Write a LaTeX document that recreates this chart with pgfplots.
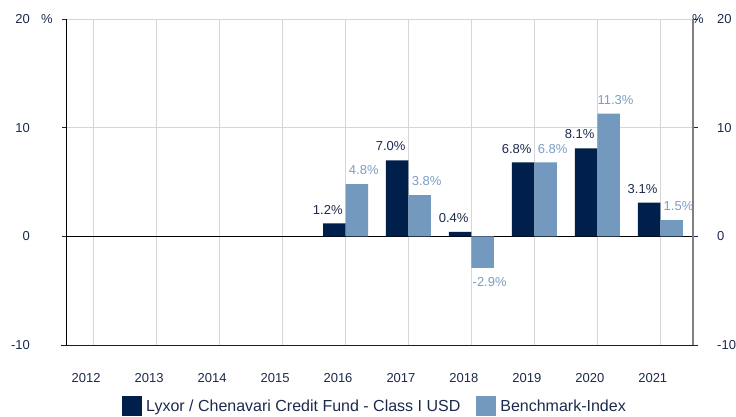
\documentclass[border=0pt]{standalone}
\usepackage{fontspec}
\setmainfont{Liberation Sans}
\usepackage{pgfplots}
\pgfplotsset{compat=1.18}
\definecolor{navy}{HTML}{001F4B}
\definecolor{lblue}{HTML}{7399BF}
\definecolor{navytxt}{HTML}{1B2A4C}
\definecolor{lbluetxt}{HTML}{7C9DC4}
\definecolor{gridc}{HTML}{D6D6D6}
\begin{document}
\begin{tikzpicture}
\useasboundingbox (-66pt,-71pt) rectangle (670pt,345pt);
\begin{axis}[
  at={(0,0)}, anchor=south west,
  width=627pt, height=326pt, scale only axis,
  clip=false,
  xmin=-0.44, xmax=9.52, ymin=-10, ymax=20,
  axis x line*=bottom, axis y line*=left,
  x axis line style={draw=navy, line width=1pt, -, shorten <=-5pt, shorten >=-5pt},
  y axis line style={draw=black, line width=0.8pt, -},
  xtick={0,1,2,3,4,5,6,7,8,9},
  xticklabels={2012,2013,2014,2015,2016,2017,2018,2019,2020,2021},
  ytick={-10,0,10,20},
  xmajorgrids, ymajorgrids,
  grid style={gridc, line width=0.8pt},
  xtick style={draw=none},
  ytick style={draw=navytxt, line width=0.8pt},
  tick align=outside, major tick length=4pt,
  ticklabel style={font=\fontsize{13}{15}\selectfont, text=navytxt},
  yticklabel style={anchor=east, inner sep=0pt, xshift=-32pt},
  xticklabel style={anchor=north, inner sep=0pt, xshift=-7.5pt, yshift=-24.5pt},
  /pgf/number format/assume math mode=true,
  extra y ticks={0}, extra y tick labels={},
  extra y tick style={grid=major, major grid style={black, line width=0.8pt}},
  ybar=0pt, bar width=22.5pt,
  nodes near coords={\pgfmathprintnumber[fixed,fixed zerofill,precision=1,assume math mode=true]{\pgfplotspointmeta}\%},
  nodes near coords align=vertical,
  every node near coord/.append style={font=\fontsize{13}{15}\selectfont, inner xsep=0pt, inner ysep=9pt},
  legend style={draw=none, fill=none, at={(0.492,-0.187)}, anchor=center,
    font=\fontsize{16}{18}\selectfont, text=navytxt,
    nodes={inner sep=1.5pt},
    /tikz/every odd column/.append style={column sep=3pt},
    /tikz/every even column/.append style={column sep=14pt}},
  legend columns=2,
  legend cell align=left,
]
\addplot[fill=navy, draw=none,
  every node near coord/.append style={text=navytxt, xshift=-6.5pt},
  legend image code/.code={\fill[navy] (0pt,-10pt) rectangle (20pt,10pt);}]
  coordinates {(4,1.2) (5,7.0) (6,0.4) (7,6.8) (8,8.1) (9,3.1)};
\addplot[fill=lblue, draw=none,
  every node near coord/.append style={text=lbluetxt, xshift=7pt},
  legend image code/.code={\fill[lblue] (0pt,-10pt) rectangle (20pt,10pt);}]
  coordinates {(4,4.8) (5,3.8) (6,-2.9) (7,6.8) (8,11.3) (9,1.5)};
\legend{Lyxor / Chenavari Credit Fund - Class I USD, Benchmark-Index}
\node[font=\fontsize{13}{15}\selectfont, text=navytxt, inner sep=0pt] at (rel axis cs:0,1) [xshift=-19pt] {\%};
\end{axis}
\begin{axis}[
  at={(0,0)}, anchor=south west,
  width=627pt, height=326pt, scale only axis,
  clip=false,
  xmin=-0.44, xmax=9.52, ymin=-10, ymax=20,
  axis x line=none, axis y line*=right,
  y axis line style={draw=gray, line width=1.4pt, -},
  ytick={-10,0,10,20},
  ytick style={draw=navytxt, line width=0.8pt},
  tick align=outside, major tick length=5pt,
  /pgf/number format/assume math mode=true,
  yticklabel style={anchor=west, inner sep=0pt, xshift=19pt, font=\fontsize{13}{15}\selectfont, text=navytxt},
]
\addplot[draw=none] coordinates {(0,0)};
\node[font=\fontsize{13}{15}\selectfont, text=navytxt, inner sep=0pt] at (rel axis cs:1,1) [xshift=5pt] {\%};
\end{axis}
\end{tikzpicture}
\end{document}
